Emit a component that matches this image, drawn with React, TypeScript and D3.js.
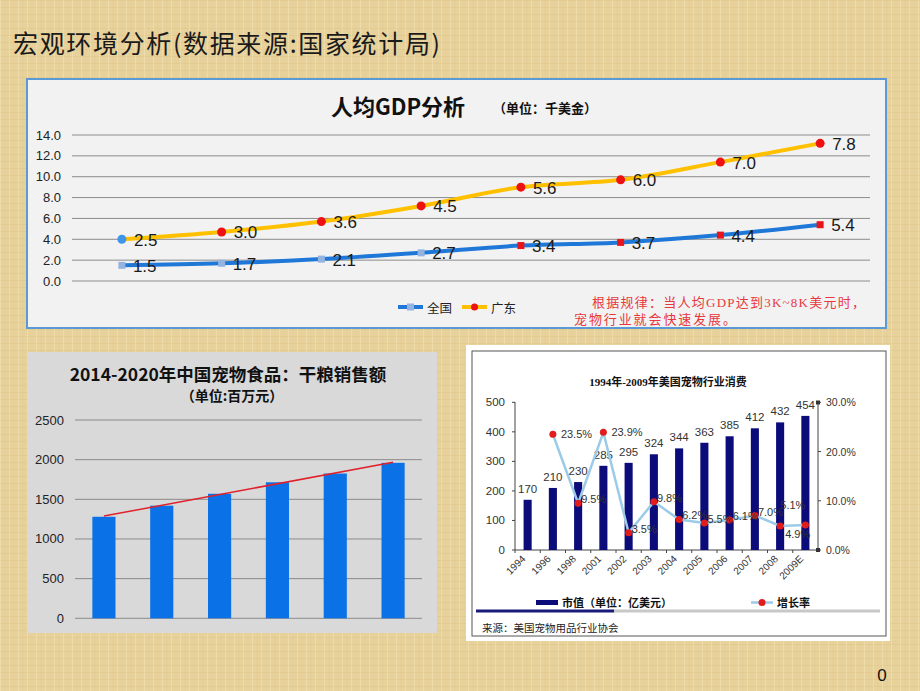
import React from "react";
import * as d3 from "d3";

// ---------- Data ----------
const gdpCategories = ["P1", "P2", "P3", "P4", "P5", "P6", "P7", "P8"];
const nationalGdp = [1.5, 1.7, 2.1, 2.7, 3.4, 3.7, 4.4, 5.4];
const guangdongGdp = [2.5, 3.0, 3.6, 4.5, 5.6, 6.0, 7.0, 7.8];
const gdpTicks = [0, 2, 4, 6, 8, 10, 12, 14];

const dryFoodYears = ["2015", "2016", "2017", "2018", "2019", "2020"];
const dryFoodSales = [1280, 1420, 1570, 1715, 1825, 1960];
const dryFoodTicks = [0, 500, 1000, 1500, 2000, 2500];

const usYears = ["1994", "1996", "1998", "2001", "2002", "2003", "2004", "2005", "2006", "2007", "2008", "2009E"];
const usMarket = [170, 210, 230, 285, 295, 324, 344, 363, 385, 412, 432, 454];
const usGrowth = [null, 23.5, 9.5, 23.9, 3.5, 9.8, 6.2, 5.5, 6.1, 7.0, 4.9, 5.1];
const usLeftTicks = [0, 100, 200, 300, 400, 500];
const usRightTicks = [0, 10, 20, 30];

const SANS = "'Liberation Sans', Arial, 'Noto Sans CJK SC', sans-serif";
const CJK = "'Noto Sans CJK SC', 'Liberation Sans', sans-serif";
const SERIF = "'Liberation Serif', 'Noto Sans CJK SC', serif";

function GdpChart() {
  const x = d3.scalePoint<string>().domain(gdpCategories).range([72, 870]).padding(0.5);
  const y = d3.scaleLinear().domain([0, 14]).range([281, 135]);
  const rows = gdpCategories.map((c, i) => ({ c, nat: nationalGdp[i], gd: guangdongGdp[i] }));
  const stacked = d3.stack<any>().keys(["nat", "gd"])(rows);
  const natS = stacked[0];
  const gdS = stacked[1];
  const line = d3
    .line<any>()
    .x((d) => x(d.data.c)!)
    .y((d) => y(d[1]))
    .curve(d3.curveMonotoneX);
  return (
    <g>
      <rect x={27} y={79} width={859} height={249} fill="#f2f2f2" stroke="#5b9bd5" strokeWidth={2} />
      <text x={398} y={105} textAnchor="middle" dominantBaseline="central" fontFamily={CJK} fontWeight="bold" fontSize={22} fill="#111">
        人均GDP分析
      </text>
      <text x={493} y={107} dominantBaseline="central" fontFamily={CJK} fontWeight="bold" fontSize={13} fill="#111">
        （单位：千美金）
      </text>
      {gdpTicks.map((t) => (
        <g key={t}>
          <line x1={72} x2={870} y1={y(t)} y2={y(t)} stroke="#8c8c8c" strokeWidth={1} />
          <text x={61} y={y(t)} textAnchor="end" dominantBaseline="central" fontFamily={SANS} fontSize={13} fill="#222">
            {t.toFixed(1)}
          </text>
        </g>
      ))}
      <path d={line(natS)!} fill="none" stroke="#1f78d8" strokeWidth={4} />
      <path d={line(gdS)!} fill="none" stroke="#ffc000" strokeWidth={4} />
      {natS.map((d, i) => (
        <rect
          key={"n" + i}
          x={x(d.data.c)! - 3.5}
          y={y(d[1]) - 3.5}
          width={7}
          height={7}
          fill={i < 4 ? "#95b3e0" : "#e8141c"}
        />
      ))}
      {gdS.map((d, i) => (
        <circle key={"g" + i} cx={x(d.data.c)!} cy={y(d[1])} r={4.5} fill={i === 0 ? "#3f95e8" : "#ee1111"} />
      ))}
      {natS.map((d, i) => (
        <text key={"nl" + i} x={x(d.data.c)! + 11} y={y(d[1]) + 1} dominantBaseline="central" fontFamily={SANS} fontSize={17} fill="#1a1a1a">
          {nationalGdp[i].toFixed(1)}
        </text>
      ))}
      {gdS.map((d, i) => (
        <text key={"gl" + i} x={x(d.data.c)! + 12} y={y(d[1]) + 1} dominantBaseline="central" fontFamily={SANS} fontSize={17} fill="#1a1a1a">
          {guangdongGdp[i].toFixed(1)}
        </text>
      ))}
      {/* legend */}
      <line x1={398} x2={423} y1={307} y2={307} stroke="#1f78d8" strokeWidth={4} />
      <rect x={407} y={303.5} width={7} height={7} fill="#95b3e0" />
      <text x={427} y={307} dominantBaseline="central" fontFamily={CJK} fontSize={12.5} fill="#222">全国</text>
      <line x1={462} x2={487} y1={307} y2={307} stroke="#ffc000" strokeWidth={4} />
      <circle cx={474.5} cy={307} r={3.5} fill="#ee1111" />
      <text x={491} y={307} dominantBaseline="central" fontFamily={CJK} fontSize={12.5} fill="#222">广东</text>
      {/* note */}
      <text x={592} y={302} dominantBaseline="central" fontFamily={SERIF} fontSize={13} fill="#e8383d" textLength={273} lengthAdjust="spacing">
        根据规律：当人均GDP达到3K~8K美元时，
      </text>
      <text x={574} y={319} dominantBaseline="central" fontFamily={SERIF} fontSize={13} fill="#e8383d" textLength={162} lengthAdjust="spacing">
        宠物行业就会快速发展。
      </text>
    </g>
  );
}

function DryFoodChart() {
  const x = d3.scaleBand<string>().domain(dryFoodYears).range([75, 422]).paddingInner(0.6).paddingOuter(0.3);
  const y = d3.scaleLinear().domain([0, 2500]).range([618.3, 420]);
  const idx = dryFoodSales.map((_, i) => i);
  const mx = d3.mean(idx)!;
  const my = d3.mean(dryFoodSales)!;
  const slope =
    d3.sum(idx, (i) => (i - mx) * (dryFoodSales[i] - my)) / d3.sum(idx, (i) => (i - mx) * (i - mx));
  const intercept = my - slope * mx;
  const n = dryFoodYears.length - 1;
  const cx = (k: number) => x(dryFoodYears[k])! + x.bandwidth() / 2;
  return (
    <g>
      <rect x={28} y={352} width={409} height={281} fill="#d9d9d9" />
      <text x={228} y={373} textAnchor="middle" dominantBaseline="central" fontFamily={CJK} fontWeight="bold" fontSize={17.5} fill="#111">
        2014-2020年中国宠物食品：干粮销售额
      </text>
      <text x={232} y={395} textAnchor="middle" dominantBaseline="central" fontFamily={CJK} fontWeight="bold" fontSize={14} fill="#111">
        （单位:百万元）
      </text>
      {dryFoodTicks.map((t) => (
        <g key={t}>
          <line x1={75} x2={422} y1={y(t)} y2={y(t)} stroke="#8a8a8a" strokeWidth={1} />
          <text x={64} y={y(t)} textAnchor="end" dominantBaseline="central" fontFamily={SANS} fontSize={13} fill="#222">
            {t}
          </text>
        </g>
      ))}
      {dryFoodYears.map((c, i) => (
        <rect key={c} x={x(c)!} y={y(dryFoodSales[i])} width={x.bandwidth()} height={y(0) - y(dryFoodSales[i])} fill="#0a72e6" />
      ))}
      <line x1={cx(0)} y1={y(intercept)} x2={cx(n)} y2={y(intercept + slope * n)} stroke="#e0202a" strokeWidth={1.5} />
    </g>
  );
}

function UsChart() {
  const x = d3.scaleBand<string>().domain(usYears).range([515, 818]).paddingInner(0.68).paddingOuter(0.34);
  const yL = d3.scaleLinear().domain([0, 500]).range([550, 402.3]);
  const yR = d3.scaleLinear().domain([0, 30]).range([550, 402.3]);
  const cx = (c: string) => x(c)! + x.bandwidth() / 2;
  const pts = usYears.map((c, i) => ({ c, v: usGrowth[i] })).filter((d) => d.v !== null) as { c: string; v: number }[];
  const line = d3
    .line<{ c: string; v: number }>()
    .x((d) => cx(d.c))
    .y((d) => yR(d.v));
  const labelPos = (c: string) => {
    if (c === "2008") return { dx: 5, dy: 8, anchor: "start" };
    if (c === "2009E") return { dx: 0, dy: -20, anchor: "end" };
    if (c === "1996" || c === "2001") return { dx: 8, dy: 0, anchor: "start" };
    return { dx: 3, dy: -4, anchor: "start" };
  };
  return (
    <g>
      <rect x={466} y={345} width={424} height={296} fill="#ffffff" />
      <rect x={472} y={351} width={414} height={285} fill="#ffffff" stroke="#555" strokeWidth={1} />
      <text x={668} y={382} textAnchor="middle" dominantBaseline="central" fontFamily={SERIF} fontWeight="bold" fontSize={11} fill="#111">
        1994年-2009年美国宠物行业消费
      </text>
      {/* axes */}
      <line x1={515} x2={515} y1={402} y2={550} stroke="#444" />
      <line x1={818} x2={818} y1={402} y2={550} stroke="#444" />
      <line x1={515} x2={818} y1={550} y2={550} stroke="#444" />
      {usLeftTicks.map((t) => (
        <g key={t}>
          <line x1={512} x2={515} y1={yL(t)} y2={yL(t)} stroke="#444" />
          <text x={505} y={yL(t)} textAnchor="end" dominantBaseline="central" fontFamily={SANS} fontSize={11.5} fill="#333">
            {t}
          </text>
        </g>
      ))}
      {usRightTicks.map((t) => (
        <g key={t}>
          <line x1={818} x2={821} y1={yR(t)} y2={yR(t)} stroke="#444" />
          <text x={826} y={yR(t)} dominantBaseline="central" fontFamily={SANS} fontSize={10.5} fill="#333">
            {t.toFixed(1) + "%"}
          </text>
        </g>
      ))}
      <rect x={816} y={400.5} width={4} height={4} fill="#333" />
      <rect x={816} y={548} width={4} height={4} fill="#333" />
      {usYears.map((c) => (
        <line key={"tk" + c} x1={x(c)! - (x.step() - x.bandwidth()) / 2} x2={x(c)! - (x.step() - x.bandwidth()) / 2} y1={550} y2={553} stroke="#444" />
      ))}
      {usYears.map((c, i) => (
        <rect key={c} x={x(c)!} y={yL(usMarket[i])} width={x.bandwidth()} height={yL(0) - yL(usMarket[i])} fill="#0b0b7a" />
      ))}
      {usYears.map((c, i) => (
        <text key={"bl" + c} x={cx(c)} y={yL(usMarket[i]) - 11} textAnchor="middle" dominantBaseline="central" fontFamily={SANS} fontSize={11.5} fill="#333">
          {usMarket[i]}
        </text>
      ))}
      <path d={line(pts)!} fill="none" stroke="#9ccbe8" strokeWidth={2.5} />
      {pts.map((d) => (
        <circle key={"p" + d.c} cx={cx(d.c)} cy={yR(d.v)} r={3.5} fill="#e21b1b" />
      ))}
      {pts.map((d) => {
        const p = labelPos(d.c);
        return (
          <text key={"pl" + d.c} x={cx(d.c) + p.dx} y={yR(d.v) + p.dy} textAnchor={p.anchor as any} dominantBaseline="central" fontFamily={SANS} fontSize={11} fill="#333">
            {d.v.toFixed(1) + "%"}
          </text>
        );
      })}
      {usYears.map((c) => (
        <text
          key={"xl" + c}
          transform={`translate(${cx(c) - 4},${557}) rotate(-45)`}
          textAnchor="end"
          dominantBaseline="central"
          fontFamily={SANS}
          fontSize={10}
          fill="#333"
        >
          {c}
        </text>
      ))}
      {/* legend */}
      <rect x={536} y={600} width={22} height={5} fill="#0b0b7a" />
      <text x={562} y={602.5} dominantBaseline="central" fontFamily={SERIF} fontWeight="bold" fontSize={11} fill="#111">
        市值（单位：亿美元）
      </text>
      <line x1={751} x2={773} y1={602.5} y2={602.5} stroke="#9ccbe8" strokeWidth={2.5} />
      <circle cx={762} cy={602.5} r={3.5} fill="#e21b1b" />
      <text x={777} y={602.5} dominantBaseline="central" fontFamily={SERIF} fontWeight="bold" fontSize={11} fill="#111">
        增长率
      </text>
      <rect x={476} y={609.5} width={138} height={3} fill="#1a1a7a" />
      <rect x={614} y={609.5} width={266} height={3} fill="#c8c8c8" />
      <text x={482} y={627.5} dominantBaseline="central" fontFamily={CJK} fontSize={10.5} fill="#222">
        来源：美国宠物用品行业协会
      </text>
    </g>
  );
}

export default function App() {
  return (
    <svg
      width={920}
      height={691}
      viewBox="0 0 920 691"
      style={{ position: "absolute", left: 0, top: 0, display: "block" }}
    >
      <defs>
        <pattern id="paper" width="9" height="7" patternUnits="userSpaceOnUse">
          <rect width="9" height="7" fill="#e8d29c" />
          <line x1="0" y1="0.5" x2="9" y2="0.5" stroke="#d9bd80" strokeWidth="1" opacity="0.4" />
          <line x1="0.5" y1="0" x2="0.5" y2="7" stroke="#f3e3b8" strokeWidth="1" opacity="0.5" />
          <line x1="5" y1="0" x2="5" y2="7" stroke="#dcc38a" strokeWidth="1" opacity="0.3" />
        </pattern>
      </defs>
      <rect x={0} y={0} width={920} height={691} fill="url(#paper)" />
      <text x={13} y={42} dominantBaseline="central" fontFamily={CJK} fontSize={25} fill="#1a1a1a" textLength={427} lengthAdjust="spacing">
        宏观环境分析(数据来源:国家统计局)
      </text>
      <GdpChart />
      <DryFoodChart />
      <UsChart />
      <text x={882} y={675} textAnchor="middle" dominantBaseline="central" fontFamily={SANS} fontSize={17} fill="#111">
        0
      </text>
    </svg>
  );
}
